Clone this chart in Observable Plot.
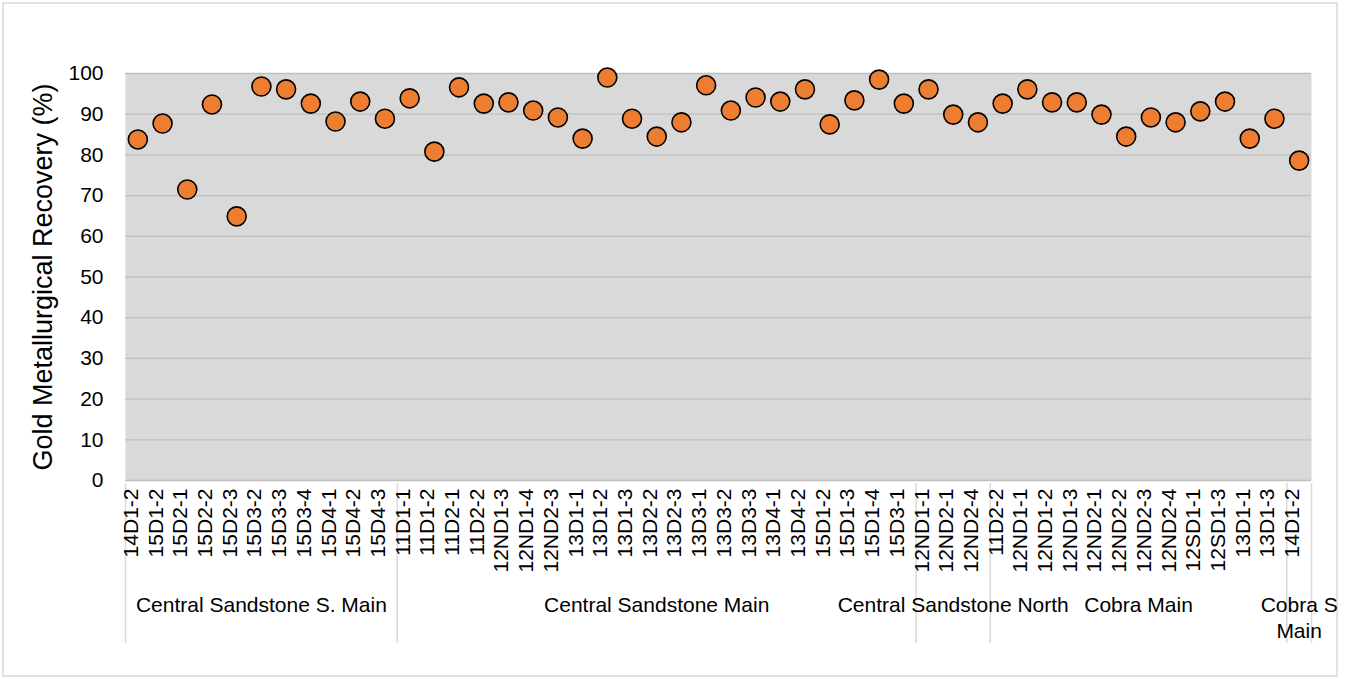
<!DOCTYPE html>
<html>
<head>
<meta charset="utf-8">
<script src="https://cdn.jsdelivr.net/npm/d3@7"></script>
<script src="https://cdn.jsdelivr.net/npm/@observablehq/plot@0.6"></script>
<style>
  html, body { margin: 0; padding: 0; background: #fff; }
  svg { display: block; }
</style>
</head>
<body>
<div id="chart"></div>
<script>
const categories = [
  "14D1-2","15D1-2","15D2-1","15D2-2","15D2-3","15D3-2","15D3-3","15D3-4","15D4-1","15D4-2","15D4-3",
  "11D1-1","11D1-2","11D2-1","11D2-2","12ND1-3","12ND1-4","12ND2-3","13D1-1","13D1-2","13D1-3","13D2-2","13D2-3","13D3-1","13D3-2","13D3-3","13D4-1","13D4-2","15D1-2","15D1-3","15D1-4","15D3-1",
  "12ND1-1","12ND2-1","12ND2-4",
  "11D2-2","12ND1-1","12ND1-2","12ND1-3","12ND2-1","12ND2-2","12ND2-3","12ND2-4","12SD1-1","12SD1-3","13D1-1","13D1-3",
  "14D1-2"
];
const recovery = [
  83.8, 87.7, 71.5, 92.4, 64.9, 96.8, 96.1, 92.6, 88.2, 93.1, 88.9,
  93.9, 80.8, 96.6, 92.6, 92.9, 90.9, 89.2, 84.0, 99.0, 88.9, 84.5, 88.0, 97.1, 90.9, 94.1, 93.1, 96.1, 87.5, 93.4, 98.5, 92.6,
  96.1, 89.9, 88.0,
  92.6, 96.1, 92.9, 92.9, 89.9, 84.5, 89.2, 88.0, 90.7, 93.1, 84.0, 88.9,
  78.6
];
const groupNames = ["Central Sandstone S. Main", "Central Sandstone Main", "Central Sandstone North", "Cobra Main", "Cobra S Main"];
const groupSizes = [11, 21, 3, 12, 1];
const yTicks = [0, 10, 20, 30, 40, 50, 60, 70, 80, 90, 100];
const yTitle = "Gold Metallurgical Recovery (%)";

const points = categories.map((c, i) => ({i, label: c, value: recovery[i]}));
let start = 0;
const groups = groupNames.map((name, k) => {
  const g = {name, start: start - 0.5, end: start + groupSizes[k] - 0.5};
  g.mid = (g.start + g.end) / 2;
  start += groupSizes[k];
  return g;
});
const boundaries = [-0.5, ...groups.map(g => g.end)];

const font = "Liberation Sans, Arial, sans-serif";
const W = 1345, H = 679;
const mTop = 73, mBottom = 199;

const chart = Plot.plot({
  width: W,
  height: H,
  marginLeft: 125,
  marginRight: 34,
  marginTop: mTop,
  marginBottom: mBottom,
  style: {fontFamily: font, fontSize: "21px", color: "#000", background: "transparent"},
  x: {type: "linear", domain: [-0.5, categories.length - 0.5], axis: null},
  y: {domain: [0, 100], ticks: yTicks, tickSize: 0, tickPadding: 22, tickFormat: d => d, label: null},
  marks: [
    Plot.frame({fill: "#d9d9d9", stroke: null}),
    Plot.ruleY(yTicks, {stroke: "#bfbfbf", strokeWidth: 1.3}),
    Plot.ruleX(boundaries, {x: d => d, stroke: "#d9d9d9", strokeWidth: 1.5, insetTop: 483 - mTop, insetBottom: -(643 - (H - mBottom))}),
    Plot.dot(points, {x: "i", y: "value", r: 9.5, fill: "#ED7D31", stroke: "#000", strokeWidth: 1.6, fillOpacity: 1}),
    Plot.text(points, {x: "i", text: "label", frameAnchor: "bottom", rotate: -90, textAnchor: "end", dy: 8, fontSize: 21, fill: "#000"}),
    Plot.text(groups.filter(g => g.end - g.start > 1), {x: "mid", text: "name", frameAnchor: "bottom", dy: 131, fontSize: 21, fill: "#000"}),
    Plot.text(groups.filter(g => g.end - g.start <= 1), {x: "mid", text: "name", frameAnchor: "bottom", dy: 136, lineAnchor: "middle", lineWidth: 4, lineHeight: 1.24, fontSize: 21, fill: "#000"}),
    Plot.text([yTitle], {frameAnchor: "left", textAnchor: "middle", rotate: -90, dx: -82, dy: 0, fontSize: 27, fill: "#000"})
  ]
});

d3.select(chart).insert("rect", ":first-child")
  .attr("x", 3).attr("y", 3).attr("width", 1334).attr("height", 673)
  .attr("fill", "#fff").attr("stroke", "#d9d9d9").attr("stroke-width", 1.5);

document.getElementById("chart").appendChild(chart);
</script>
</body>
</html>
